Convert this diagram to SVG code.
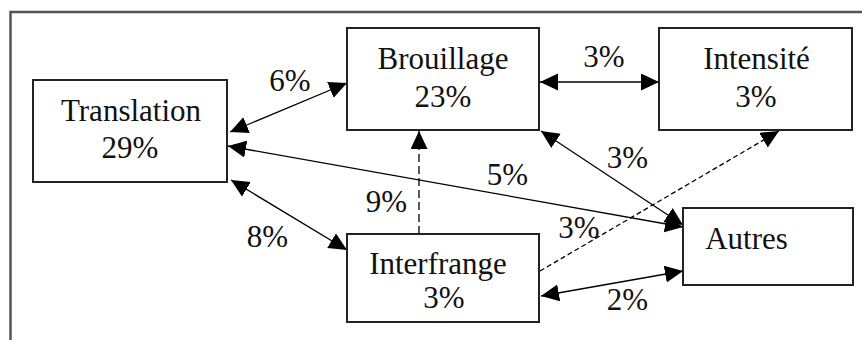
<svg xmlns="http://www.w3.org/2000/svg" width="862" height="340" viewBox="0 0 862 340">
<style>
.frame{fill:none;stroke:#555;stroke-width:2.5}
.box{fill:#fff;stroke:#222;stroke-width:2}
text{font-family:"Liberation Serif","Times New Roman",serif;font-size:31px;fill:#111;text-anchor:middle}
.c{fill:none;stroke:#000;stroke-width:1.3}
.d1{stroke-dasharray:8 4}
.d2{stroke-dasharray:5 3}
</style>
<defs>
<marker id="ah" markerUnits="userSpaceOnUse" markerWidth="20" markerHeight="18" refX="18" refY="8.5" orient="auto-start-reverse">
<path d="M0,0 L18,8.5 L0,17 z" fill="#000"/>
</marker>
</defs>
<rect width="862" height="340" fill="#fff"/>
<path class="frame" d="M10.5,340 V12 H862"/>
<g id="connectors">
<line class="c" x1="230" y1="132" x2="347" y2="83" marker-start="url(#ah)" marker-end="url(#ah)"/>
<line class="c" x1="228" y1="146" x2="683" y2="227" marker-start="url(#ah)" marker-end="url(#ah)"/>
<line class="c" x1="231" y1="180" x2="347" y2="250" marker-start="url(#ah)" marker-end="url(#ah)"/>
<line class="c" x1="540" y1="82" x2="659" y2="82" marker-start="url(#ah)" marker-end="url(#ah)"/>
<line class="c d1" x1="419" y1="234" x2="419" y2="131" marker-end="url(#ah)"/>
<line class="c" x1="541" y1="131" x2="683" y2="225" marker-start="url(#ah)" marker-end="url(#ah)"/>
<line class="c d2" x1="540" y1="271" x2="779" y2="131" marker-end="url(#ah)"/>
<line class="c" x1="541" y1="296" x2="683" y2="271" marker-start="url(#ah)" marker-end="url(#ah)"/>
<text x="290" y="90.5">6%</text>
<text x="604" y="67">3%</text>
<text x="507.5" y="185">5%</text>
<text x="386.5" y="211.5">9%</text>
<text x="267.5" y="247">8%</text>
<text x="627.5" y="168">3%</text>
<text x="579" y="238">3%</text>
<text x="627.5" y="310">2%</text>
</g>
<g id="translation">
<rect class="box" x="33" y="80" width="194" height="102"/>
<text x="131" y="120.5">Translation</text>
<text x="130" y="158">29%</text>
</g>
<g id="brouillage">
<rect class="box" x="347" y="28" width="192" height="102"/>
<text x="443" y="69">Brouillage</text>
<text x="443" y="107">23%</text>
</g>
<g id="intensite">
<rect class="box" x="659" y="28" width="193" height="102"/>
<text x="756.5" y="69">Intensité</text>
<text x="756" y="107">3%</text>
</g>
<g id="interfrange">
<rect class="box" x="347" y="234" width="192" height="88"/>
<text x="438" y="274">Interfrange</text>
<text x="444" y="308">3%</text>
</g>
<g id="autres">
<rect class="box" x="683" y="208" width="170" height="77"/>
<text x="746.5" y="249">Autres</text>
</g>
</svg>
